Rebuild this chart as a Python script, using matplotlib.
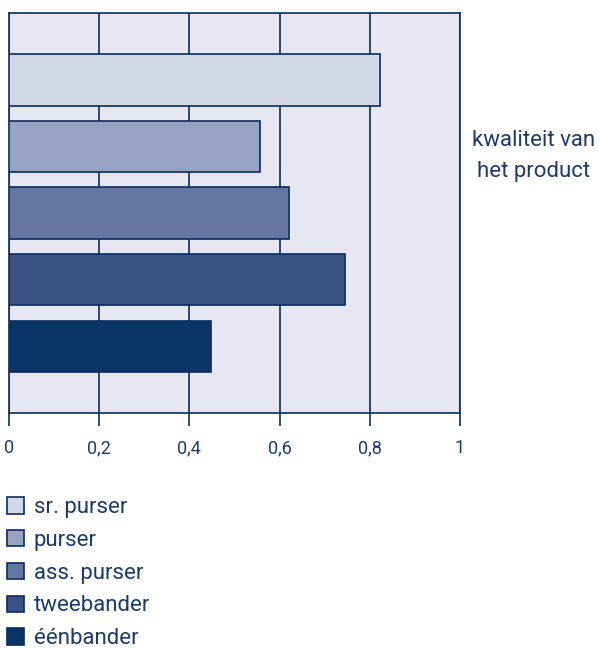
import matplotlib
matplotlib.use("Agg")
import matplotlib.pyplot as plt
from matplotlib.patches import Patch

plt.rcParams["font.family"] = ["Roboto", "DejaVu Sans"]

# function groups, top to bottom
groups = ["sr. purser", "purser", "ass. purser", "tweebander", "éénbander"]
scores = [0.823, 0.557, 0.621, 0.745, 0.448]
colors = ["#D3D8E6", "#97A3C2", "#6576A0", "#3C5282", "#0A3366"]
xticks = [0, 0.2, 0.4, 0.6, 0.8, 1]
xtick_labels = ["0", "0,2", "0,4", "0,6", "0,8", "1"]
aspect_label = "kwaliteit van\nhet product"

navy = "#0B2B5E"
text_color = "#1E3A6C"

fig = plt.figure(figsize=(5.99, 6.49), dpi=100)
ax = fig.add_axes([0.015, 0.3636, 0.753, 0.616])
ax.set_facecolor("#E6E7F0")

ypos = list(range(1, len(groups) + 1))
ax.barh(ypos, scores, height=0.77, color=colors, edgecolor=navy,
        linewidth=1.2, zorder=3)

ax.set_xlim(0, 1)
ax.set_ylim(len(groups) + 1, 0)
ax.set_xticks(xticks)
ax.set_xticklabels(xtick_labels, color=text_color, fontsize=13)
ax.set_yticks([])
ax.grid(axis="x", color=navy, linewidth=1.2, zorder=1)
ax.tick_params(axis="x", direction="out", length=9, width=1.2, color=navy, pad=10)
for side in ax.spines.values():
    side.set_color(navy)
    side.set_linewidth(1.2)

fig.text(0.89, 0.759, aspect_label, ha="center", va="center",
         color=text_color, fontsize=16, linespacing=1.62)

handles = [Patch(facecolor=c, edgecolor=navy, linewidth=1.2) for c in colors]
leg = fig.legend(handles, groups, loc="upper left", bbox_to_anchor=(0.012, 0.234),
                 frameon=False, fontsize=16, handlelength=0.75, handleheight=0.75,
                 handletextpad=0.45, labelspacing=0.53, borderaxespad=0,
                 borderpad=0)
for t in leg.get_texts():
    t.set_color(text_color)

fig.savefig("out.png", dpi=100)
